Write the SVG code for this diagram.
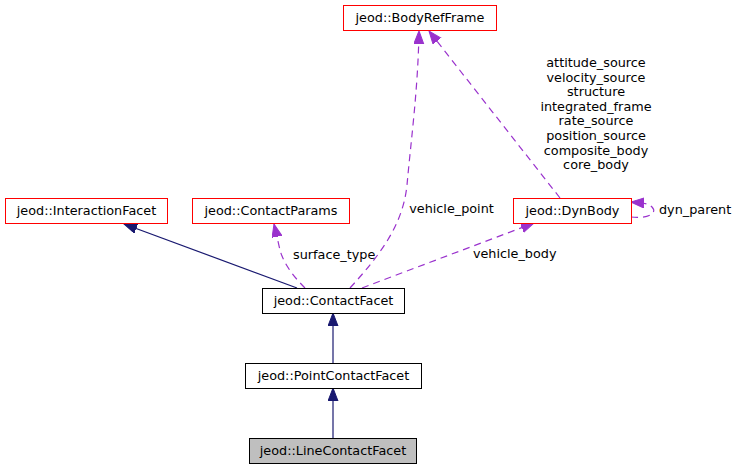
<svg xmlns="http://www.w3.org/2000/svg" width="737" height="471" viewBox="0 0 737 471">
<style>
text{font-family:"DejaVu Sans","Liberation Sans",sans-serif;font-size:12.8px;fill:#000}
.n{text-anchor:middle}
.red{fill:#fff;stroke:#ff0000;stroke-width:1}
.blk{fill:#fff;stroke:#000;stroke-width:1}
.cur{fill:#bfbfbf;stroke:#000;stroke-width:1}
.inh{fill:none;stroke:#191970;stroke-width:1.2}
.use{fill:none;stroke:#9a32cd;stroke-width:1.2;stroke-dasharray:7,5}
</style>
<defs>
<marker id="an" markerUnits="userSpaceOnUse" markerWidth="16" markerHeight="12" refX="13" refY="5" orient="auto" viewBox="0 0 16 12">
<path d="M0,0 L13,5 L0,10 Z" fill="#191970" stroke="#191970"/>
</marker>
<marker id="ap" markerUnits="userSpaceOnUse" markerWidth="16" markerHeight="12" refX="13" refY="5" orient="auto" viewBox="0 0 16 12">
<path d="M0,0 L13,5 L0,10 Z" fill="#9a32cd" stroke="#9a32cd"/>
</marker>
</defs>
<g id="edges">
<path class="inh" d="M333,363 L333,313" marker-end="url(#an)"/>
<path class="inh" d="M333,438 L333,388" marker-end="url(#an)"/>
<path class="inh" d="M297,288 L124,224" marker-end="url(#an)"/>
<path class="use" d="M305,288 C295,278 284,265 280,250 L274,224" marker-end="url(#ap)"/>
<path class="use" d="M350,288 C380,255 403,225 407,185 C411,140 418,90 419,31" marker-end="url(#ap)"/>
<path class="use" d="M362,288 L534,223" marker-end="url(#ap)"/>
<path class="use" d="M560,198 L429,31" marker-end="url(#ap)"/>
<path class="use" d="M631,217 C648,219 658,213 652,207 C649,204 645,203 631,202" marker-end="url(#ap)"/>
<text x="293" y="259">surface_type</text>
<text class="n" x="451.5" y="213">vehicle_point</text>
<text class="n" x="514.7" y="258">vehicle_body</text>
<text x="659" y="214">dyn_parent</text>
<text class="n" x="596" y="67">attitude_source</text>
<text class="n" x="596" y="81.6">velocity_source</text>
<text class="n" x="596" y="96.2">structure</text>
<text class="n" x="596" y="110.8">integrated_frame</text>
<text class="n" x="596" y="125.4">rate_source</text>
<text class="n" x="596" y="140">position_source</text>
<text class="n" x="596" y="154.6">composite_body</text>
<text class="n" x="596" y="169.2">core_body</text>
</g>
<g id="BodyRefFrame"><rect class="red" x="343.5" y="5.5" width="153" height="25"/><text class="n" x="420" y="22">jeod::BodyRefFrame</text></g>
<g id="InteractionFacet"><rect class="red" x="5.5" y="198.5" width="162" height="25"/><text class="n" x="86.5" y="215">jeod::InteractionFacet</text></g>
<g id="ContactParams"><rect class="red" x="192.5" y="198.5" width="157" height="25"/><text class="n" x="271" y="215">jeod::ContactParams</text></g>
<g id="DynBody"><rect class="red" x="513.5" y="198.5" width="118" height="25"/><text class="n" x="572.5" y="215">jeod::DynBody</text></g>
<g id="ContactFacet"><rect class="blk" x="262.5" y="288.5" width="142" height="25"/><text class="n" x="333.5" y="305">jeod::ContactFacet</text></g>
<g id="PointContactFacet"><rect class="blk" x="245.5" y="363.5" width="176" height="25"/><text class="n" x="333.5" y="380">jeod::PointContactFacet</text></g>
<g id="LineContactFacet"><rect class="cur" x="249.5" y="438.5" width="167" height="25"/><text class="n" x="333" y="455">jeod::LineContactFacet</text></g>
</svg>
